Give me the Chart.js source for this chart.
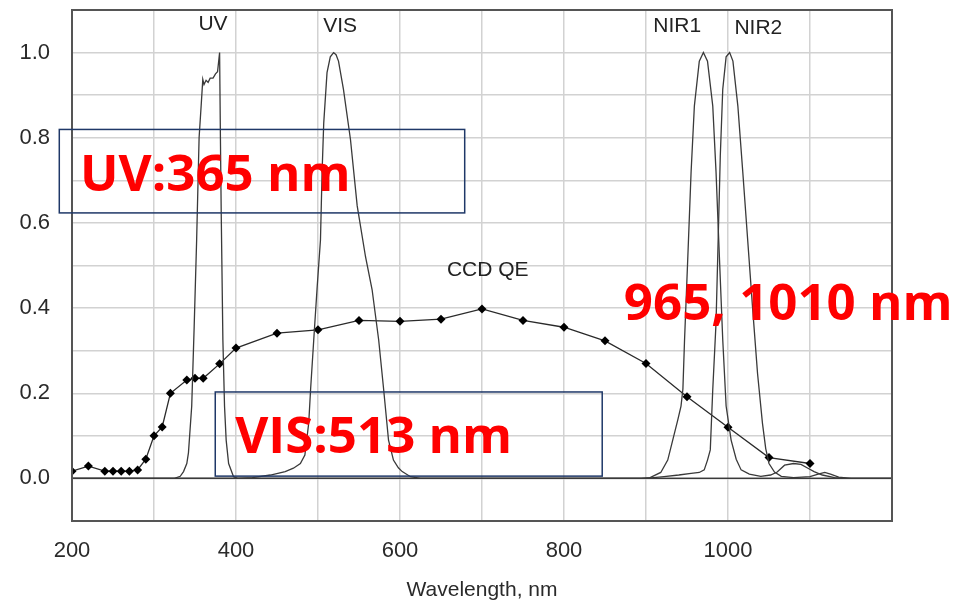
<!DOCTYPE html>
<html>
<head>
<meta charset="utf-8">
<script src="https://cdn.jsdelivr.net/npm/chart.js@4.4.1/dist/chart.umd.min.js"></script>
<style>
    html, body { margin: 0; padding: 0; background: #fff; }
    #wrap { width: 959px; height: 602px; position: relative; }
</style>
</head>
<body>
<div id="wrap"><canvas id="chart"></canvas></div>
<script>
// wavelength (nm) / relative response
const uvX = [200, 325, 332, 336, 340, 342, 346, 349, 352, 355, 357.5, 359.5, 361, 363.5, 366, 368.5, 372, 375, 377.5, 380, 381, 382, 384, 386, 388, 391, 397, 402, 1200];
const uvY = [0, 0, 0.005, 0.016, 0.035, 0.06, 0.17, 0.357, 0.56, 0.8, 0.875, 0.937, 0.925, 0.935, 0.93, 0.94, 0.94, 0.95, 0.955, 1.0, 0.8, 0.62, 0.325, 0.17, 0.09, 0.035, 0.004, 0, 0];

const visX = [200, 400, 420, 442, 460, 470, 478.5, 484, 488.7, 491, 494.8, 499, 503, 505, 507, 511, 515, 519, 522, 525, 531, 539.6, 547.8, 558, 566, 574, 580, 586, 592, 598, 602.7, 612.8, 625, 1200];
const visY = [0, 0, 0.002, 0.008, 0.016, 0.024, 0.035, 0.055, 0.13, 0.21, 0.325, 0.45, 0.56, 0.72, 0.835, 0.953, 0.99, 1.0, 0.995, 0.98, 0.914, 0.796, 0.64, 0.52, 0.443, 0.325, 0.21, 0.09, 0.043, 0.025, 0.016, 0.004, 0, 0];

const nir1X = [200, 894, 905, 918, 926.5, 932.6, 938.7, 942.7, 945, 947, 951, 955, 959, 965, 970, 975, 981.4, 985.4, 989.5, 993.6, 997.7, 1003.8, 1010, 1016, 1026, 1040, 1052, 1060, 1069, 1080, 1089, 1097.5, 1105, 1115, 1130, 1145, 1200];
const nir1Y = [0, 0, 0.002, 0.014, 0.043, 0.09, 0.137, 0.17, 0.21, 0.325, 0.52, 0.72, 0.875, 0.98, 1.0, 0.98, 0.875, 0.72, 0.52, 0.325, 0.17, 0.09, 0.045, 0.02, 0.01, 0.005, 0.008, 0.015, 0.031, 0.035, 0.033, 0.024, 0.016, 0.008, 0.002, 0, 0];

const nir2X = [200, 900, 922, 940, 955, 965, 971, 975, 978.4, 981.4, 985.4, 988, 990.6, 993.6, 997.7, 1002, 1006, 1012, 1018, 1024, 1030, 1036, 1042, 1046, 1050, 1056.7, 1065, 1080, 1100, 1110, 1118, 1125, 1135, 1150, 1200];
const nir2Y = [0, 0, 0.004, 0.008, 0.012, 0.014, 0.02, 0.043, 0.067, 0.208, 0.365, 0.56, 0.757, 0.914, 0.99, 1.0, 0.98, 0.875, 0.72, 0.56, 0.4, 0.247, 0.13, 0.07, 0.035, 0.015, 0.005, 0.002, 0.004, 0.01, 0.014, 0.01, 0.003, 0, 0];

const ccdX = [200, 220, 240, 250, 260, 270, 280, 290, 300, 310, 320, 340, 350, 360, 380, 400, 450, 500, 550, 600, 650, 700, 750, 800, 850, 900, 950, 1000, 1050, 1100];
const ccdY = [0.017, 0.029, 0.017, 0.017, 0.017, 0.017, 0.02, 0.045, 0.1, 0.121, 0.2, 0.231, 0.235, 0.235, 0.269, 0.306, 0.341, 0.349, 0.371, 0.369, 0.374, 0.398, 0.371, 0.355, 0.323, 0.27, 0.192, 0.12, 0.049, 0.035];

// curve names and where they sit (data units)
const curveLabels = ['UV', 'VIS', 'NIR1', 'NIR2', 'CCD QE'];
const curveLabelX = [372, 527, 938, 1037, 707];
const curveLabelY = [1.067, 1.061, 1.061, 1.057, 0.49];

// red call-outs: text, left edge, baseline (data units)
const noteTexts = ['UV:365 nm', 'VIS:513 nm', '965, 1010 nm'];
const noteX = [209.8, 399, 873];
const noteY = [0.674, 0.059, 0.3725];

// framed boxes: [x1, x2, yTop, yBottom]
const boxX1 = [184.5, 374.7];
const boxX2 = [678.9, 846.6];
const boxTop = [0.8195, 0.203];
const boxBottom = [0.6235, 0.0054];

const toPoints = (xs, ys) => xs.map((x, i) => ({ x: x, y: ys[i] }));

const filterStyle = {
    borderColor: '#3a3a3a',
    borderWidth: 1.3,
    pointRadius: 0,
    tension: 0,
    fill: false
};

const overlay = {
    id: 'overlay',
    afterDatasetsDraw(chart) {
        const ctx = chart.ctx,
            xs = chart.scales.x,
            ys = chart.scales.y,
            area = chart.chartArea;

        // frame round the plot
        ctx.save();
        ctx.strokeStyle = '#555';
        ctx.lineWidth = 2;
        ctx.strokeRect(area.left, area.top, area.right - area.left, area.bottom - area.top);

        // curve names
        ctx.fillStyle = '#222';
        ctx.font = '21px "Liberation Sans", Arial, sans-serif';
        ctx.textAlign = 'center';
        ctx.textBaseline = 'middle';
        curveLabels.forEach((t, i) => {
            ctx.fillText(t, xs.getPixelForValue(curveLabelX[i]), ys.getPixelForValue(curveLabelY[i]));
        });

        // boxes
        ctx.strokeStyle = '#1f3868';
        ctx.lineWidth = 1.5;
        boxX1.forEach((x1, i) => {
            const l = xs.getPixelForValue(x1),
                r = xs.getPixelForValue(boxX2[i]),
                t = ys.getPixelForValue(boxTop[i]),
                b = ys.getPixelForValue(boxBottom[i]);
            ctx.strokeRect(l, t, r - l, b - t);
        });

        // red call-outs
        ctx.fillStyle = '#ff0000';
        ctx.font = 'bold 51px "Open Sans", sans-serif';
        ctx.textAlign = 'left';
        ctx.textBaseline = 'alphabetic';
        noteTexts.forEach((t, i) => {
            ctx.fillText(t, xs.getPixelForValue(noteX[i]), ys.getPixelForValue(noteY[i]));
        });
        ctx.restore();
    }
};

const tickFont = { family: '"Liberation Sans", Arial, sans-serif', size: 22 };

new Chart(document.getElementById('chart'), {
    type: 'line',
    data: {
        datasets: [
            Object.assign({ label: 'UV', data: toPoints(uvX, uvY) }, filterStyle),
            Object.assign({ label: 'VIS', data: toPoints(visX, visY) }, filterStyle),
            Object.assign({ label: 'NIR1', data: toPoints(nir1X, nir1Y) }, filterStyle),
            Object.assign({ label: 'NIR2', data: toPoints(nir2X, nir2Y) }, filterStyle),
            {
                label: 'CCD QE',
                data: toPoints(ccdX, ccdY),
                borderColor: '#2a2a2a',
                borderWidth: 1.3,
                pointStyle: 'rectRot',
                pointRadius: 4.5,
                pointBackgroundColor: '#000',
                pointBorderWidth: 0,
                tension: 0,
                fill: false
            }
        ]
    },
    options: {
        responsive: true,
        maintainAspectRatio: false,
        animation: false,
        layout: { padding: { top: 10, right: 67, left: 0, bottom: 0 } },
        plugins: {
            legend: { display: false },
            tooltip: { enabled: false }
        },
        scales: {
            x: {
                type: 'linear',
                min: 200,
                max: 1200,
                afterFit: (s) => {
                    s.height = 81;
                    s.paddingLeft = 0;
                    s.paddingRight = 0;
                },
                border: { display: false },
                grid: { color: '#d2d2d2', lineWidth: 1.5, drawTicks: false },
                ticks: {
                    stepSize: 100,
                    padding: 17,
                    color: '#2a2a2a',
                    font: tickFont,
                    maxRotation: 0,
                    autoSkip: false,
                    callback: (v) => (v % 200 === 0 && v <= 1000 ? String(v) : '')
                },
                title: {
                    display: true,
                    text: 'Wavelength, nm',
                    color: '#2a2a2a',
                    font: { family: '"Liberation Sans", Arial, sans-serif', size: 21, lineHeight: 1 },
                    padding: { top: 0, bottom: 1 }
                }
            },
            y: {
                min: -0.1,
                max: 1.1,
                afterFit: (s) => {
                    s.width = 72;
                    s.paddingTop = 0;
                    s.paddingBottom = 0;
                },
                border: { display: false },
                grid: { color: '#d2d2d2', lineWidth: 1.5, drawTicks: false },
                ticks: {
                    stepSize: 0.1,
                    padding: 22,
                    color: '#2a2a2a',
                    font: tickFont,
                    autoSkip: false,
                    callback: (v) => {
                        const k = Math.round(v * 10);
                        return (k >= 0 && k <= 10 && k % 2 === 0) ? (k / 10).toFixed(1) : '';
                    }
                }
            }
        }
    },
    plugins: [overlay]
});
</script>
</body>
</html>
